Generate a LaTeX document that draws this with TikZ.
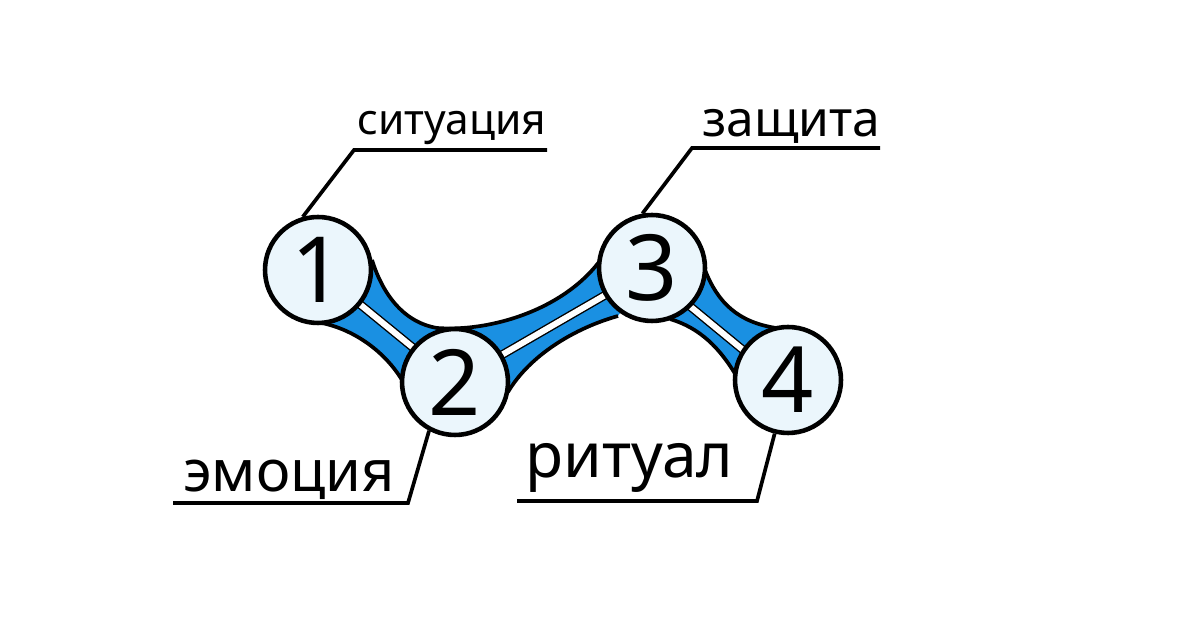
\documentclass[tikz,border=0pt]{standalone}
\usepackage{fontspec}
\setmainfont{Noto Sans}
\definecolor{bandblue}{HTML}{1A90E2}
\definecolor{discfill}{HTML}{EBF6FC}
\begin{document}
\begin{tikzpicture}[x=0.02cm,y=-0.02cm,
  disc/.style={circle,draw=black,line width=2.6pt,fill=discfill,minimum size=2.12cm,inner sep=0pt,font=\fontsize{52}{52}\selectfont},
  edge/.style={draw=black,line width=2.1pt},
  lead/.style={draw=black,line width=2.1pt},
  band/.style={fill=bandblue},
  rail/.style={draw=black,line width=0.8pt,double=white,double distance=3.4pt},
  lbl/.style={inner sep=0pt,anchor=base west}]
\useasboundingbox[fill=white] (0,0) rectangle (1200,624);
% bands
\path[band] (318,270) -- (372,260) .. controls (382,292) and (402,322) .. (437,328) -- (455,382) -- (402,380) .. controls (385,352) and (355,330) .. (322,323) -- cycle;
\path[band] (455,382) -- (437,328) .. controls (490,332) and (565,310) .. (602,258) -- (652,268) -- (618,316) .. controls (575,328) and (530,355) .. (508,392) -- cycle;
\path[band] (652,268) -- (705,270) .. controls (718,303) and (738,322) .. (776,328) -- (788,380) -- (737,377) .. controls (720,348) and (700,328) .. (670,319) -- cycle;
\draw[edge] (372,260) .. controls (382,292) and (402,322) .. (437,328) .. controls (490,332) and (565,310) .. (602,258);
\draw[edge] (402,380) .. controls (385,352) and (355,330) .. (322,323);
\draw[edge] (618,316) .. controls (575,328) and (530,355) .. (508,392);
\draw[edge] (705,270) .. controls (718,303) and (738,322) .. (776,328);
\draw[edge] (737,377) .. controls (720,348) and (700,328) .. (670,319);
% circles (coordinates for rails)
\coordinate (p1) at (318,270);
\coordinate (p2) at (455,382);
\coordinate (p3) at (652,268);
\coordinate (p4) at (788,380);
\draw[rail] (p1) -- (p2);
\draw[rail] (p2) -- (p3);
\draw[rail] ([yshift=-0.14cm]p3) -- ([yshift=-0.14cm]p4);
\node[disc] (c1) at (p1) {1};
\node[disc] (c2) at (p2) {2};
\node[disc] (c3) at (p3) {3};
\node[disc] (c4) at (p4) {4};
% labels
\node[lbl,font=\fontsize{24.2}{24.2}\selectfont] (t1) at (357,135) {ситуация};
\node[lbl,font=\fontsize{28.3}{28.3}\selectfont] (t3) at (702,137) {защита};
\node[lbl,font=\fontsize{32.8}{32.8}\selectfont] (t2) at (183,492) {эмоция};
\node[lbl,font=\fontsize{35.5}{35.5}\selectfont] (t4) at (525,478) {ритуал};
% leaders
\coordinate (k1) at (354,150);
\coordinate (e1) at (547,150);
\coordinate (k3) at (692,148);
\coordinate (e3) at (880,148);
\coordinate (k2) at (408,503);
\coordinate (e2) at (173,503);
\coordinate (k4) at (757,501);
\coordinate (e4) at (517,501);
\draw[lead] (c1.106) -- (k1) -- (e1);
\draw[lead] (c3.100) -- (k3) -- (e3);
\draw[lead] (c2.-118) -- (k2) -- (e2);
\draw[lead] (c4.-104) -- (k4) -- (e4);
\end{tikzpicture}
\end{document}
